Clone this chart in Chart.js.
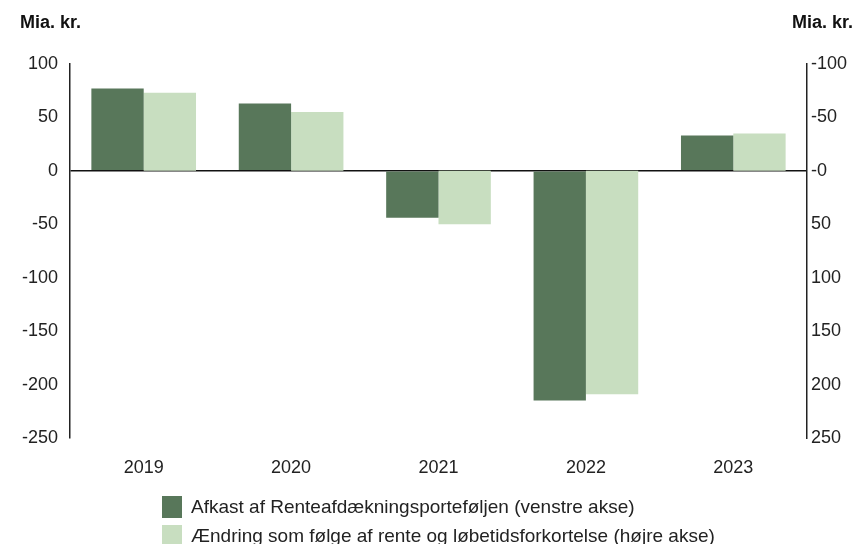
<!DOCTYPE html>
<html>
<head>
<meta charset="utf-8">
<script src="https://cdn.jsdelivr.net/npm/chart.js@4"></script>
<style>
  html, body { margin: 0; padding: 0; background: #fff; }
  #wrap { position: relative; width: 859px; height: 544px; font-family: "Liberation Sans", Arial, sans-serif; }
  #chart { position: absolute; left: 0; top: 0; }
  .unit { position: absolute; top: 12px; font-weight: bold; font-size: 18px; color: #111; line-height: 20px; }
  #legend { position: absolute; left: 162px; top: 492px; font-size: 19px; color: #222; }
  .item { display: flex; align-items: center; height: 29px; }
  .box { width: 20px; height: 22px; margin-right: 9px; }
</style>
</head>
<body>
<div id="wrap">
  <canvas id="chart" width="859" height="544"></canvas>
  <div class="unit" style="left:20px">Mia. kr.</div>
  <div class="unit" style="left:792px">Mia. kr.</div>
  <div id="legend"></div>
</div>
<script>
const years = ["2019", "2020", "2021", "2022", "2023"];
const afkast = [77, 63, -44, -215, 33];
const aendring = [-73, -55, 50, 209, -35];
const seriesNames = [
  "Afkast af Renteafdækningsporteføljen (venstre akse)",
  "Ændring som følge af rente og løbetidsforkortelse (højre akse)",
];
const colors = ["#58775a", "#c8dec0"];

const font = { family: "'Liberation Sans', Arial, sans-serif", size: 18 };

new Chart(document.getElementById("chart"), {
  type: "bar",
  data: {
    labels: years,
    datasets: [
      { label: seriesNames[0], data: afkast, backgroundColor: colors[0], yAxisID: "y" },
      { label: seriesNames[1], data: aendring, backgroundColor: colors[1], yAxisID: "y1" },
    ],
  },
  options: {
    responsive: false,
    animation: false,
    layout: { padding: { top: 64, left: 0, right: 0, bottom: 0 } },
    datasets: { bar: { categoryPercentage: 0.71, barPercentage: 1 } },
    plugins: { legend: { display: false }, tooltip: { enabled: false } },
    scales: {
      x: {
        grid: { display: false, drawTicks: false },
        border: { display: false },
        ticks: { color: "#222", font: font, padding: 19 },
        afterFit: function (s) { s.height = 106; },
      },
      y: {
        position: "left",
        min: -250,
        max: 100,
        ticks: { stepSize: 50, color: "#222", font: font, padding: 12 },
        border: { display: true, color: "#222", width: 1.5 },
        grid: {
          drawTicks: false,
          lineWidth: 1.5,
          color: function (c) { return c.tick && c.tick.value === 0 ? "#111" : "rgba(0,0,0,0)"; },
        },
        afterFit: function (s) { s.width = 70; },
      },
      y1: {
        position: "right",
        reverse: true,
        min: -100,
        max: 250,
        ticks: {
          stepSize: 50,
          color: "#222",
          font: font,
          padding: 4,
          callback: function (v) { return v === 0 ? "-0" : v; },
        },
        border: { display: true, color: "#222", width: 1.5 },
        grid: { display: false, drawTicks: false },
        afterFit: function (s) { s.width = 52; },
      },
    },
  },
});

const legend = document.getElementById("legend");
seriesNames.forEach(function (name, i) {
  const row = document.createElement("div");
  row.className = "item";
  row.innerHTML = '<span class="box" style="background:' + colors[i] + '"></span><span>' + name + "</span>";
  legend.appendChild(row);
});
</script>
</body>
</html>
